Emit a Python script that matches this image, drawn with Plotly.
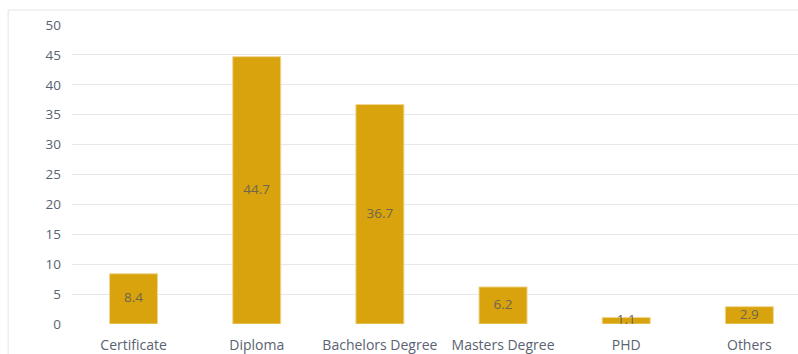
import plotly.graph_objects as go

categories = ["Certificate", "Diploma", "Bachelors Degree", "Masters Degree", "PHD", "Others"]
values = [8.4, 44.7, 36.7, 6.2, 1.1, 2.9]
y_ticks = [0, 5, 10, 15, 20, 25, 30, 35, 40, 45, 50]

FONT = "Open Sans"
idx = list(range(len(categories)))

fig = go.Figure()
fig.add_trace(go.Bar(
    x=idx, y=values, width=0.39,
    marker=dict(color="#D9A30E", line=dict(color="#F0D690", width=1)),
    hoverinfo="x+y",
))
# value labels centred in each bar
fig.add_trace(go.Scatter(
    x=idx, y=[v / 2 for v in values], text=[f"{v:g}" for v in values],
    mode="text", textfont=dict(family=FONT, size=13.5, color="#6E6650"),
    hoverinfo="skip",
))

fig.update_layout(
    width=798, height=354,
    margin=dict(l=72, r=0, t=25, b=30),
    paper_bgcolor="white", plot_bgcolor="white",
    showlegend=False,
    font=dict(family=FONT, size=14, color="#5A6272"),
    xaxis=dict(
        range=[-0.5, 5.395], tickmode="array", tickvals=idx, ticktext=categories,
        showgrid=False, zeroline=False, showline=False, ticks="",
        ticklabelstandoff=11,
        tickfont=dict(family=FONT, size=14, color="#5A6272"),
    ),
    yaxis=dict(
        range=[0, 50], tickmode="array", tickvals=y_ticks,
        gridcolor="#E6E8EE", gridwidth=1, zeroline=False, showline=False,
        ticks="", ticklabelstandoff=10,
        tickfont=dict(family=FONT, size=13.5, color="#5A6272"),
    ),
    shapes=[dict(
        type="rect", xref="paper", yref="paper",
        x0=-0.088, x1=1.05, y0=-0.2, y1=1.05,
        line=dict(color="#E4E4E4", width=1), fillcolor="rgba(0,0,0,0)", layer="below",
    )],
)

fig.write_html("out.html")
